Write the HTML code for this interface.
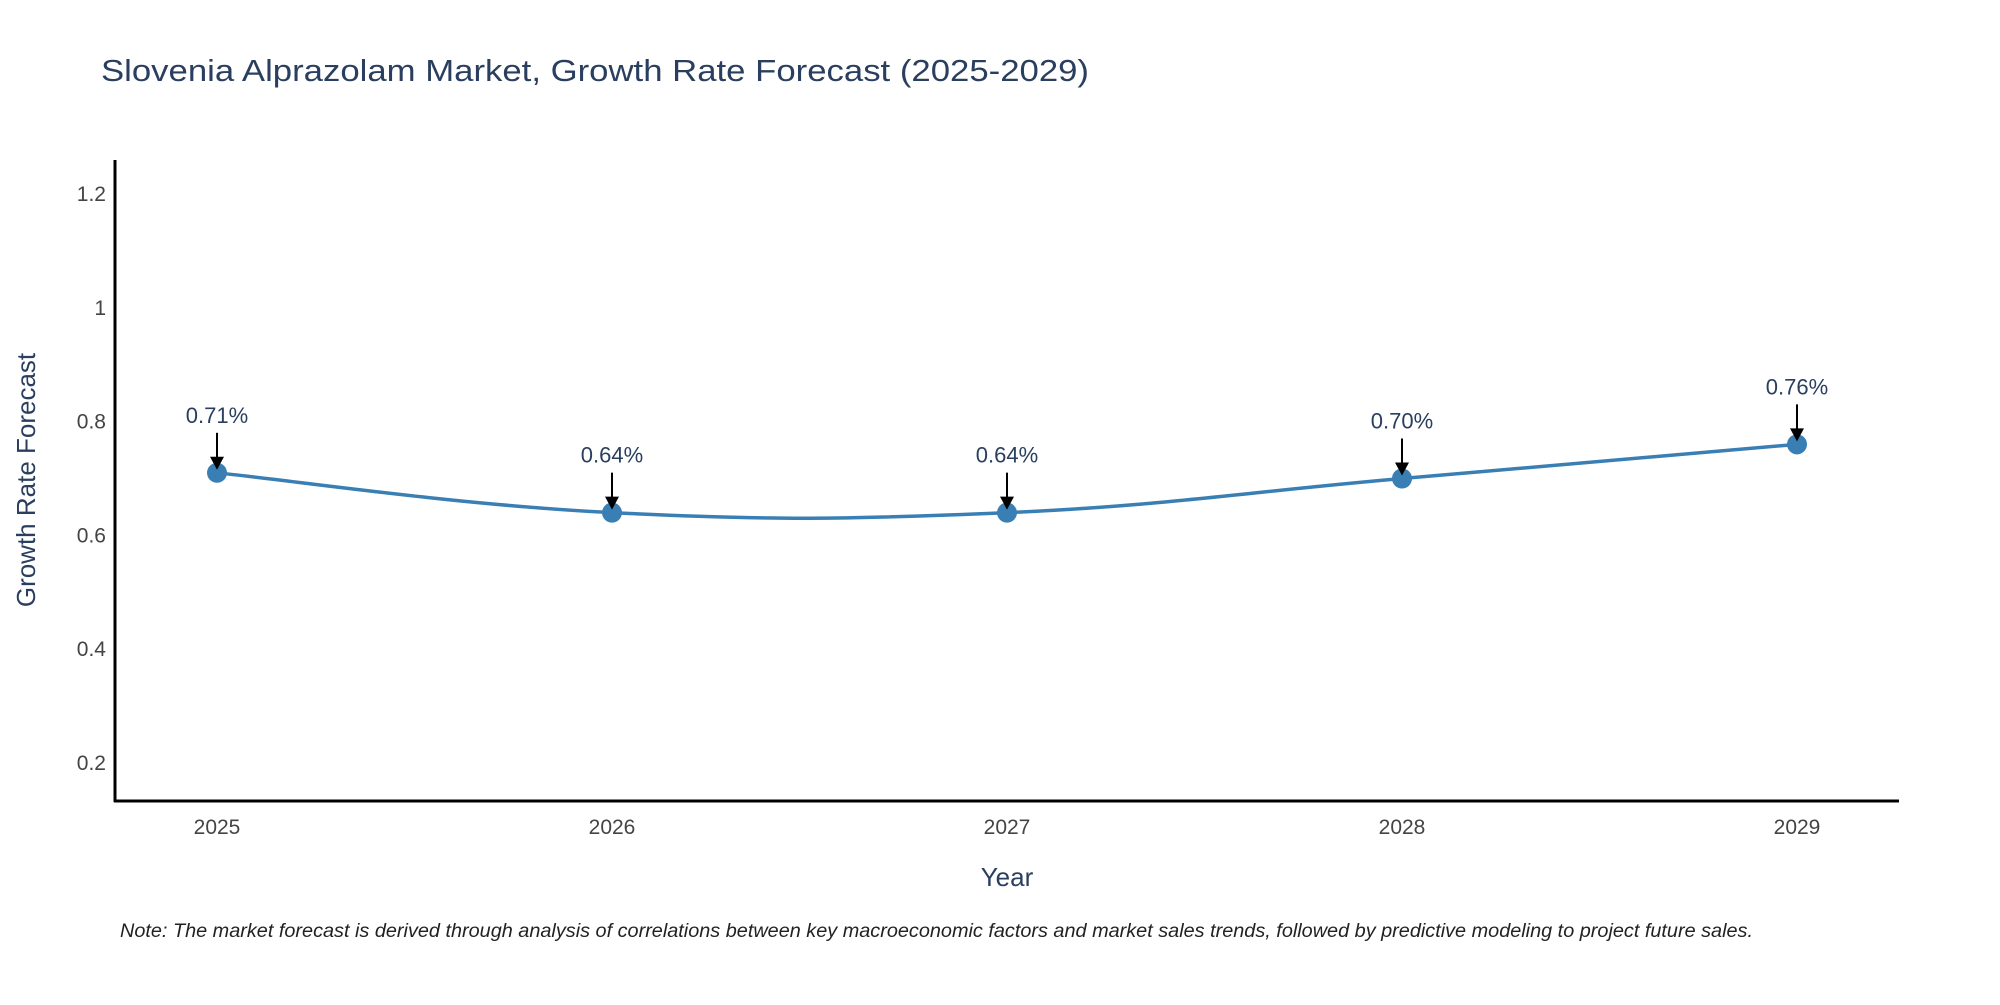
<!DOCTYPE html>
<html><head><meta charset="utf-8"><style>
html,body{margin:0;padding:0;background:#fff;}
svg text{font-family:"Liberation Sans",sans-serif;}
</style></head><body>
<svg id="chart" width="2000" height="1000" viewBox="0 0 2000 1000" xmlns="http://www.w3.org/2000/svg">
<text x="101" y="81" font-size="31" fill="#2a3f5f" textLength="988" lengthAdjust="spacingAndGlyphs">Slovenia Alprazolam Market, Growth Rate Forecast (2025-2029)</text>
<g id="yticks"></g>
<g id="xticks"></g>
<line x1="115" y1="160" x2="115" y2="802" stroke="#000" stroke-width="3"/>
<line x1="114" y1="801" x2="1899" y2="801" stroke="#000" stroke-width="3"/>
<text transform="translate(35,480) rotate(-90)" text-anchor="middle" font-size="26" fill="#2a3f5f">Growth Rate Forecast</text>
<text x="1007" y="886" text-anchor="middle" font-size="26" fill="#2a3f5f">Year</text>
<g id="series"></g>
<g id="annos"></g>
<text x="120" y="937" font-size="19" font-style="italic" fill="#222" textLength="1633" lengthAdjust="spacingAndGlyphs">Note: The market forecast is derived through analysis of correlations between key macroeconomic factors and market sales trends, followed by predictive modeling to project future sales.</text>
</svg>
<script>
const years = [2025, 2026, 2027, 2028, 2029];
const values = [0.71, 0.64, 0.64, 0.70, 0.76];
const labels = ["0.71%", "0.64%", "0.64%", "0.70%", "0.76%"];
const yTickValues = [0.2, 0.4, 0.6, 0.8, 1, 1.2];
const yTickLabels = ["0.2", "0.4", "0.6", "0.8", "1", "1.2"];

const NS = "http://www.w3.org/2000/svg";
function xScale(yr){ return 217 + (yr - 2025) * 395; }
function yScale(v){ return 763 - (v - 0.2) * 569; }
function mk(tag, attrs, parent){
  const e = document.createElementNS(NS, tag);
  for (const k in attrs) e.setAttribute(k, attrs[k]);
  parent.appendChild(e); return e;
}
const yt = document.getElementById('yticks');
yTickValues.forEach((v,i)=>{
  const t = mk('text',{x:106,y:yScale(v)+7,'text-anchor':'end','font-size':'21',fill:'#444'},yt);
  
  
  t.textContent = yTickLabels[i];
});
const xt = document.getElementById('xticks');
years.forEach(yr=>{
  const t = mk('text',{x:xScale(yr),y:834,'text-anchor':'middle','font-size':'21',fill:'#444'},xt);
  
  
  t.textContent = yr;
});
// spline path (cardinal)
const pts = years.map((yr,i)=>[xScale(yr), yScale(values[i])]);
let d = `M${pts[0][0]},${pts[0][1]}`;
const tension = 0.2;
for (let i=0;i<pts.length-1;i++){
  const p0 = pts[Math.max(0,i-1)], p1 = pts[i], p2 = pts[i+1], p3 = pts[Math.min(pts.length-1,i+2)];
  const c1 = [p1[0]+(p2[0]-p0[0])*tension, p1[1]+(p2[1]-p0[1])*tension];
  const c2 = [p2[0]-(p3[0]-p1[0])*tension, p2[1]-(p3[1]-p1[1])*tension];
  d += ` C${c1[0]},${c1[1]} ${c2[0]},${c2[1]} ${p2[0]},${p2[1]}`;
}
const s = document.getElementById('series');
const path = mk('path',{d:d,fill:'none',stroke:'#3a7fb4','stroke-width':'3.5'},s);


pts.forEach(p=>{
  const c = mk('circle',{cx:p[0],cy:p[1],r:10,fill:'#3a7fb4'},s);
  
  
});
const a = document.getElementById('annos');
pts.forEach((p,i)=>{
  const ln = mk('line',{x1:p[0],y1:p[1]-40,x2:p[0],y2:p[1]-14,stroke:'#000','stroke-width':'2'},a);
  
  
  const hd = mk('path',{d:`M${p[0]-7},${p[1]-16} L${p[0]+7},${p[1]-16} L${p[0]},${p[1]-3} Z`,fill:'#000'},a);
  
  
  const t = mk('text',{x:p[0],y:p[1]-50,'text-anchor':'middle','font-size':'22',fill:'#2a3f5f'},a);
  
  
  t.textContent = labels[i];
});
</script>
</body></html>
